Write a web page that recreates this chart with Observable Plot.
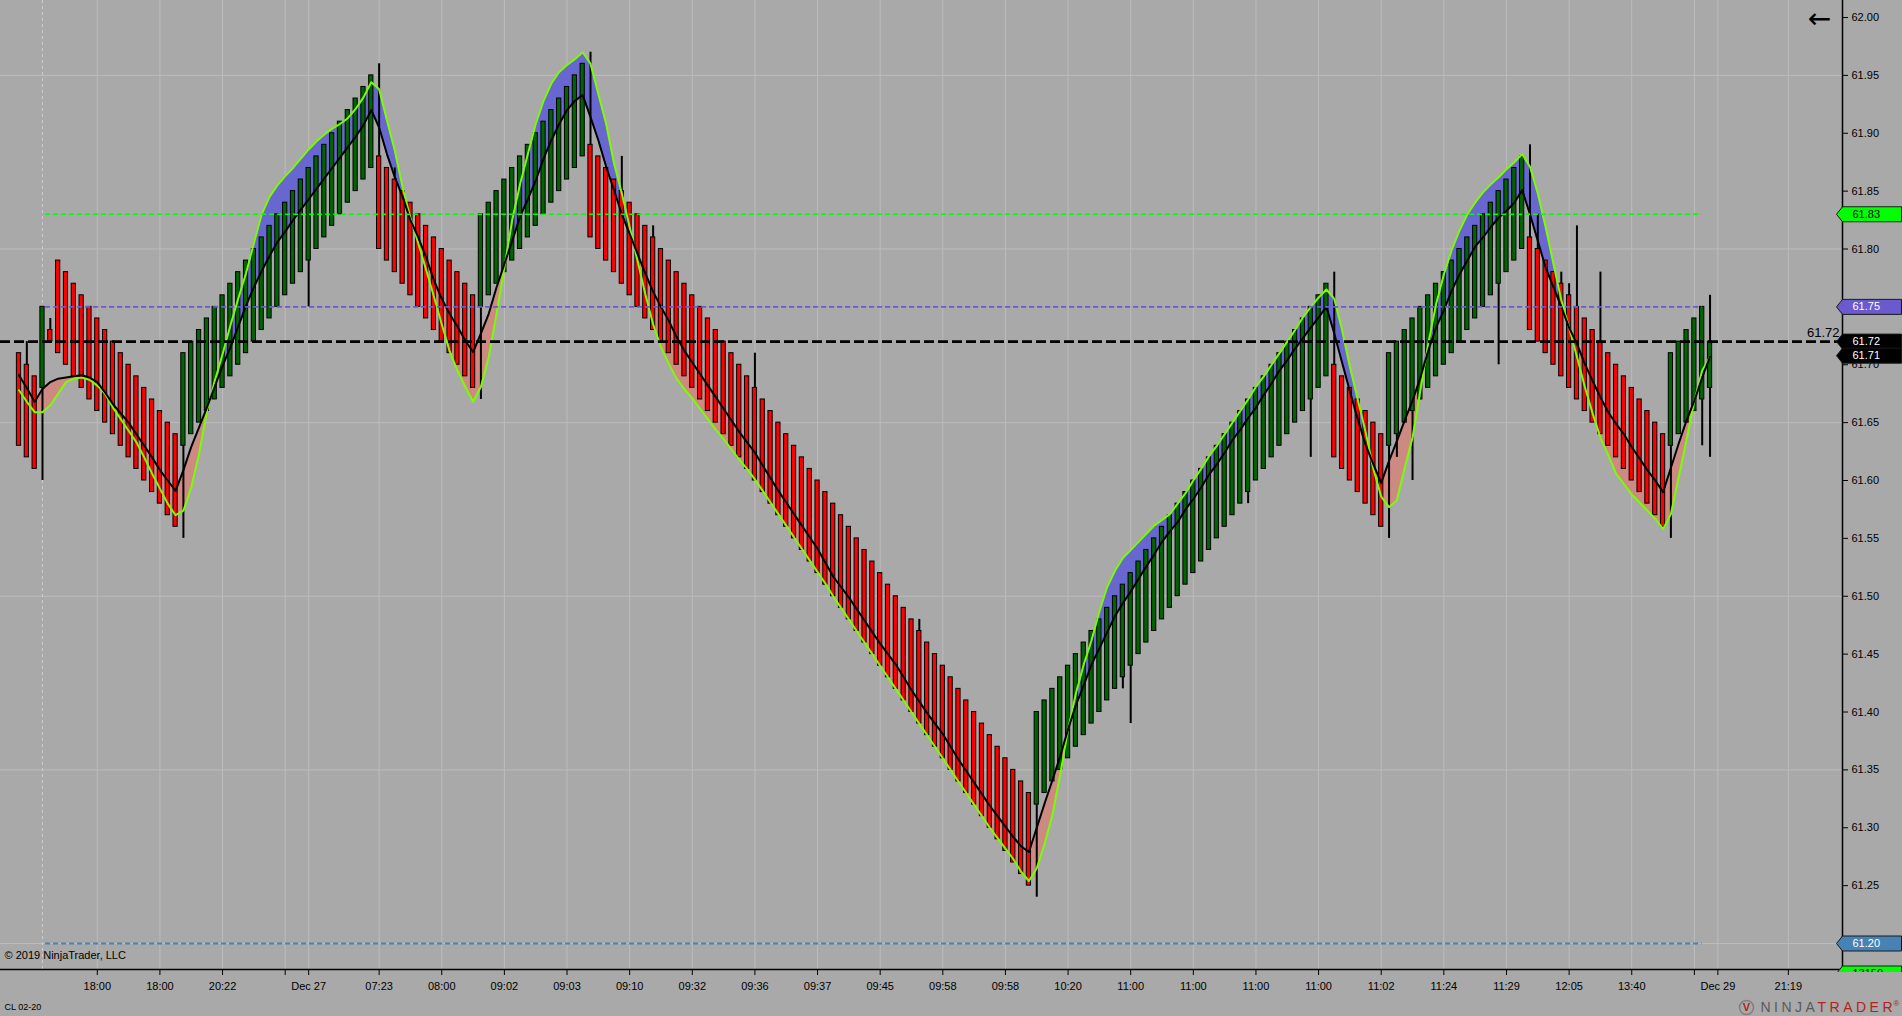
<!DOCTYPE html>
<html><head><meta charset="utf-8">
<script src="https://cdn.jsdelivr.net/npm/d3@7"></script>
<script src="https://cdn.jsdelivr.net/npm/@observablehq/plot@0.6"></script>
<style>
html,body{margin:0;padding:0;background:#A9A9A9;overflow:hidden;}
#chart{width:1902px;height:1016px;}
</style></head><body><div id="chart"></div>
<script>
// ---- bar data (one entry per bar, index = bar number) ----
const opens = [
61.71,61.70,61.69,61.68,61.73,61.79,61.78,61.77,61.76,61.75,
61.74,61.73,61.72,61.71,61.70,61.69,61.68,61.67,61.66,61.65,
61.64,61.63,61.64,61.65,61.66,61.67,61.68,61.69,61.70,61.71,
61.72,61.73,61.74,61.75,61.76,61.77,61.78,61.79,61.80,61.81,
61.82,61.83,61.84,61.85,61.86,61.87,61.88,61.87,61.86,61.85,
61.84,61.83,61.82,61.81,61.80,61.79,61.78,61.77,61.76,61.75,
61.76,61.77,61.78,61.79,61.80,61.81,61.82,61.83,61.84,61.85,
61.86,61.87,61.88,61.89,61.88,61.87,61.86,61.85,61.84,61.83,
61.82,61.81,61.80,61.79,61.78,61.77,61.76,61.75,61.74,61.73,
61.72,61.71,61.70,61.69,61.68,61.67,61.66,61.65,61.64,61.63,
61.62,61.61,61.60,61.59,61.58,61.57,61.56,61.55,61.54,61.53,
61.52,61.51,61.50,61.49,61.48,61.47,61.46,61.45,61.44,61.43,
61.42,61.41,61.40,61.39,61.38,61.37,61.36,61.35,61.34,61.33,
61.32,61.33,61.34,61.35,61.36,61.37,61.38,61.39,61.40,61.41,
61.42,61.43,61.44,61.45,61.46,61.47,61.48,61.49,61.50,61.51,
61.52,61.53,61.54,61.55,61.56,61.57,61.58,61.59,61.60,61.61,
61.62,61.63,61.64,61.65,61.66,61.67,61.68,61.69,61.70,61.69,
61.68,61.67,61.66,61.65,61.64,61.63,61.64,61.65,61.66,61.67,
61.68,61.69,61.70,61.71,61.72,61.73,61.74,61.75,61.76,61.77,
61.78,61.79,61.80,61.81,61.80,61.79,61.78,61.77,61.76,61.75,
61.74,61.73,61.72,61.71,61.70,61.69,61.68,61.67,61.66,61.65,
61.64,61.63,61.64,61.65,61.66,61.67,61.68];
const closes = [
61.63,61.62,61.61,61.75,61.72,61.71,61.70,61.69,61.68,61.67,
61.66,61.65,61.64,61.63,61.62,61.61,61.60,61.59,61.58,61.57,
61.56,61.71,61.72,61.73,61.74,61.75,61.76,61.77,61.78,61.79,
61.80,61.81,61.82,61.83,61.84,61.85,61.86,61.87,61.88,61.89,
61.90,61.91,61.92,61.93,61.94,61.95,61.80,61.79,61.78,61.77,
61.76,61.75,61.74,61.73,61.72,61.71,61.70,61.69,61.68,61.83,
61.84,61.85,61.86,61.87,61.88,61.89,61.90,61.91,61.92,61.93,
61.94,61.95,61.96,61.81,61.80,61.79,61.78,61.77,61.76,61.75,
61.74,61.73,61.72,61.71,61.70,61.69,61.68,61.67,61.66,61.65,
61.64,61.63,61.62,61.61,61.60,61.59,61.58,61.57,61.56,61.55,
61.54,61.53,61.52,61.51,61.50,61.49,61.48,61.47,61.46,61.45,
61.44,61.43,61.42,61.41,61.40,61.39,61.38,61.37,61.36,61.35,
61.34,61.33,61.32,61.31,61.30,61.29,61.28,61.27,61.26,61.25,
61.40,61.41,61.42,61.43,61.44,61.45,61.46,61.47,61.48,61.49,
61.50,61.51,61.52,61.53,61.54,61.55,61.56,61.57,61.58,61.59,
61.60,61.61,61.62,61.63,61.64,61.65,61.66,61.67,61.68,61.69,
61.70,61.71,61.72,61.73,61.74,61.75,61.76,61.77,61.62,61.61,
61.60,61.59,61.58,61.57,61.56,61.71,61.72,61.73,61.74,61.75,
61.76,61.77,61.78,61.79,61.80,61.81,61.82,61.83,61.84,61.85,
61.86,61.87,61.88,61.73,61.72,61.71,61.70,61.69,61.68,61.67,
61.66,61.65,61.64,61.63,61.62,61.61,61.60,61.59,61.58,61.57,
61.56,61.71,61.72,61.73,61.74,61.75,61.72];
// black moving-average line
const maLine = [
61.691,61.680,61.668,61.679,61.685,61.688,61.689,61.690,61.691,61.689,
61.685,61.676,61.666,61.658,61.650,61.640,61.630,61.620,61.609,61.600,
61.591,61.609,61.629,61.646,61.663,61.681,61.699,61.715,61.733,61.751,
61.767,61.781,61.794,61.806,61.815,61.825,61.834,61.843,61.852,61.861,
61.870,61.879,61.888,61.897,61.907,61.920,61.905,61.882,61.862,61.845,
61.825,61.810,61.793,61.773,61.757,61.744,61.733,61.721,61.711,61.727,
61.744,61.767,61.787,61.807,61.828,61.843,61.859,61.878,61.894,61.908,
61.920,61.928,61.933,61.914,61.894,61.871,61.851,61.830,61.813,61.796,
61.779,61.763,61.750,61.738,61.724,61.712,61.702,61.692,61.682,61.672,
61.662,61.652,61.642,61.633,61.624,61.613,61.602,61.591,61.581,61.571,
61.561,61.551,61.541,61.529,61.517,61.508,61.499,61.489,61.479,61.469,
61.459,61.450,61.441,61.430,61.419,61.409,61.399,61.390,61.381,61.370,
61.359,61.349,61.339,61.329,61.319,61.310,61.301,61.292,61.284,61.279,
61.300,61.321,61.341,61.362,61.385,61.406,61.423,61.441,61.455,61.469,
61.483,61.494,61.504,61.515,61.526,61.536,61.547,61.556,61.564,61.575,
61.584,61.594,61.605,61.614,61.624,61.635,61.644,61.654,61.663,61.674,
61.684,61.695,61.704,61.714,61.723,61.732,61.741,61.750,61.727,61.702,
61.677,61.653,61.631,61.614,61.598,61.617,61.634,61.652,61.669,61.689,
61.712,61.732,61.747,61.764,61.778,61.790,61.802,61.810,61.819,61.827,
61.833,61.840,61.851,61.830,61.807,61.784,61.767,61.750,61.732,61.718,
61.701,61.686,61.672,61.659,61.649,61.640,61.629,61.619,61.609,61.600,
61.590,61.611,61.632,61.652,61.669,61.689,61.707];
// lime (fast) line
const hullLine = [
61.678,61.668,61.659,61.659,61.665,61.675,61.685,61.688,61.689,61.687,
61.682,61.675,61.663,61.653,61.643,61.633,61.620,61.606,61.593,61.580,
61.570,61.574,61.594,61.623,61.660,61.686,61.709,61.734,61.757,61.779,
61.805,61.830,61.845,61.855,61.863,61.870,61.878,61.886,61.893,61.899,
61.904,61.908,61.913,61.921,61.931,61.944,61.938,61.911,61.885,61.853,
61.827,61.805,61.782,61.759,61.735,61.712,61.695,61.681,61.668,61.681,
61.707,61.744,61.784,61.825,61.856,61.882,61.908,61.928,61.943,61.953,
61.959,61.964,61.970,61.960,61.934,61.908,61.874,61.848,61.819,61.790,
61.761,61.735,61.715,61.701,61.688,61.679,61.671,61.662,61.653,61.644,
61.636,61.627,61.618,61.610,61.601,61.591,61.581,61.571,61.561,61.551,
61.541,61.531,61.521,61.511,61.500,61.490,61.480,61.470,61.460,61.450,
61.440,61.430,61.420,61.410,61.400,61.390,61.380,61.370,61.360,61.350,
61.340,61.330,61.320,61.310,61.300,61.291,61.282,61.273,61.262,61.254,
61.265,61.286,61.311,61.346,61.385,61.416,61.441,61.462,61.487,61.508,
61.522,61.533,61.540,61.547,61.554,61.561,61.566,61.571,61.580,61.589,
61.600,61.610,61.621,61.630,61.640,61.650,61.660,61.670,61.681,61.690,
61.700,61.710,61.720,61.730,61.741,61.750,61.758,61.765,61.757,61.730,
61.698,61.670,61.642,61.610,61.586,61.577,61.583,61.611,61.637,61.678,
61.718,61.752,61.778,61.799,61.816,61.830,61.840,61.849,61.856,61.862,
61.869,61.875,61.882,61.871,61.848,61.819,61.787,61.756,61.732,61.707,
61.681,61.658,61.637,61.622,61.606,61.597,61.588,61.581,61.574,61.567,
61.558,61.571,61.603,61.635,61.669,61.695,61.707];
// wicks that extend beyond the body
const wickBar  = [1,3,4,21,37,46,48,59,73,77,81,94,115,130,141,142,157,165,168,175,176,178,189,193,194,197,198,199,202,211,215,216];
const wickLow  = [61.70,61.60,61.73,61.55,61.75,61.88,61.86,61.67,61.89,61.85,61.81,61.68,61.47,61.24,61.42,61.39,61.58,61.62,61.70,61.55,61.62,61.60,61.70,61.81,61.80,61.77,61.76,61.75,61.72,61.55,61.63,61.62];
const wickHigh = [61.72,61.68,61.74,61.63,61.79,61.96,61.87,61.75,61.97,61.88,61.82,61.71,61.48,61.32,61.43,61.44,61.59,61.67,61.78,61.63,61.64,61.66,61.77,61.89,61.83,61.78,61.77,61.82,61.78,61.63,61.67,61.76];
// x-axis ticks (bar index) and labels
const tickBars   = [10,18,26,34,37,46,54,62,70,78,86,94,102,110,118,126,134,142,150,158,166,174,182,190,198,206,214,217,226];
const tickLabels = ["18:00","18:00","20:22","","Dec 27","07:23","08:00","09:02","09:03","09:10","09:32","09:36","09:37","09:45","09:58","09:58","10:20","11:00","11:00","11:00","11:00","11:02","11:24","11:29","12:05","13:40","","Dec 29","21:19"];
// price axis
const yTicks = [61.20,61.25,61.30,61.35,61.40,61.45,61.50,61.55,61.60,61.65,61.70,61.75,61.80,61.85,61.90,61.95,62.00];
const yGrid  = [61.20,61.35,61.50,61.65,61.80,61.95];
// horizontal price levels
const levelGreen = 61.83, levelPurple = 61.75, levelBlack = 61.72, levelBlue = 61.20;
const lastPrice = 61.71;
const volumeText = "13150";

// ---- build ----
const bars = opens.map((o, i) => ({i, open: o, close: closes[i], ma: maLine[i], hull: hullLine[i], up: closes[i] >= o}));
const wicks = wickBar.map((b, k) => ({bar: b, low: wickLow[k], high: wickHigh[k]}));
const labelMap = new Map(tickBars.map((b, k) => [b, tickLabels[k]]));
const fmt = d => d.toFixed(2);

const W = 1902, H = 1016, MR = 60, MB = 47;
const xDomain = [-2.363, 232.92];
const yDomain = [61.17754, 62.01469];

const flagShape = {draw(ctx) {
  ctx.moveTo(-6, 0); ctx.lineTo(0, -7.5); ctx.lineTo(59, -7.5);
  ctx.lineTo(59, 7.5); ctx.lineTo(0, 7.5); ctx.closePath();
}};
const flags = [
  {price: levelGreen, fill: "#00FF00", ink: "#000000"},
  {price: levelPurple, fill: "#6A5ACD", ink: "#FFFFFF"},
  {price: levelBlack, fill: "#000000", ink: "#FFFFFF"},
  {price: levelBlue, fill: "#4682B4", ink: "#FFFFFF"}
];
const FONT = "Arial, 'Liberation Sans', sans-serif";
const tag = name => () => name;

const plot = Plot.plot({
  width: W, height: H,
  marginLeft: 0, marginRight: MR, marginTop: 0, marginBottom: MB,
  x: {domain: xDomain, axis: null},
  y: {domain: yDomain, axis: null},
  style: {background: "#A9A9A9", fontFamily: FONT, color: "black", overflow: "visible"},
  marks: [
    // grid
    Plot.ruleX(tickBars, {stroke: "#BCBCBC", strokeWidth: 1}),
    Plot.ruleY(yGrid, {stroke: "#BCBCBC", strokeWidth: 1}),
    Plot.ruleX([3], {stroke: "#CDCDCD", strokeWidth: 1, strokeDasharray: "3,3"}),
    // fill between black and lime
    Plot.areaY(bars, {x: "i", y1: "ma", y2: d => Math.max(d.ma, d.hull), fill: "#6767CF"}),
    Plot.areaY(bars, {x: "i", y1: "ma", y2: d => Math.min(d.ma, d.hull), fill: "#CC8A82"}),
    // wicks and bodies
    Plot.ruleX(wicks, {x: "bar", y1: "low", y2: "high", stroke: "black", strokeWidth: 2}),
    Plot.rect(bars, {x1: d => d.i - 0.27, x2: d => d.i + 0.27, y1: "open", y2: "close",
      fill: d => d.up ? "#006400" : "#FF0000", stroke: "black", strokeWidth: 1}),
    // indicator lines
    Plot.lineY(bars, {x: "i", y: "hull", stroke: "#7CFC00", strokeWidth: 2}),
    Plot.lineY(bars, {x: "i", y: "ma", stroke: "black", strokeWidth: 2}),
    // horizontal levels
    Plot.ruleY([levelGreen], {x1: 3.4, x2: 215, stroke: "#00FF00", strokeWidth: 1.6, strokeDasharray: "5,3"}),
    Plot.ruleY([levelPurple], {x1: 3.4, x2: 215, stroke: "#6A5ACD", strokeWidth: 1.6, strokeDasharray: "5,3"}),
    Plot.ruleY([levelBlue], {x1: 3.4, x2: 215, stroke: "#4682B4", strokeWidth: 2, strokeDasharray: "5,3"}),
    Plot.ruleY([levelBlack], {stroke: "black", strokeWidth: 2.6, strokeDasharray: "10,4"}),
    Plot.text([levelBlack], {y: d => d, frameAnchor: "right", textAnchor: "end", lineAnchor: "middle", dx: -3, dy: -9, text: fmt, fontSize: 13, fill: "black"}),
    // axes lines
    Plot.ruleX([xDomain[1]], {stroke: "black", strokeWidth: 1.5}),
    Plot.ruleY([yDomain[0]], {stroke: "black", strokeWidth: 1.5}),
    Plot.axisX(tickBars, {tickFormat: d => labelMap.get(d), tickSize: 6, tickPadding: 7, fontSize: 11, stroke: "black", fill: "black", label: null}),
    Plot.axisY(yTicks, {anchor: "right", tickFormat: fmt, tickSize: 5, tickPadding: 4, fontSize: 11, stroke: "black", fill: "black", label: null}),
    // price flags on the axis
    Plot.dot(flags, {y: "price", frameAnchor: "right", symbol: flagShape, r: 8, fill: "fill", stroke: "#1a1a1a", strokeWidth: 1}),
    Plot.text(flags, {y: "price", frameAnchor: "right", dx: 10, textAnchor: "start", lineAnchor: "middle", text: d => fmt(d.price), fill: "ink", fontSize: 11}),
    Plot.dot([lastPrice], {y: d => d, frameAnchor: "right", dy: 2.5, symbol: flagShape, r: 8, fill: "#000000", stroke: "#1a1a1a", strokeWidth: 1}),
    Plot.text([lastPrice], {y: d => d, frameAnchor: "right", dy: 2.5, dx: 10, textAnchor: "start", lineAnchor: "middle", text: fmt, fill: "#FFFFFF", fontSize: 11}),
    Plot.dot([volumeText], {frameAnchor: "bottom-right", dy: 4, symbol: flagShape, r: 8, fill: "#00FF00", stroke: "#1a1a1a", strokeWidth: 1, ariaLabel: tag("volflag")}),
    Plot.text([volumeText], {frameAnchor: "bottom-right", dy: 4, dx: 10, textAnchor: "start", lineAnchor: "middle", text: d => d, fill: "#000000", fontSize: 11, ariaLabel: tag("volflag")}),
    // annotations
    Plot.text(["\u2190"], {frameAnchor: "top-right", dx: -23, dy: 19, textAnchor: "middle", lineAnchor: "middle", text: d => d, fontSize: 28, fontFamily: "'DejaVu Sans', sans-serif", fill: "black"}),
    Plot.text(["\u00A9 2019 NinjaTrader, LLC"], {frameAnchor: "bottom-left", dx: 4, dy: -14, textAnchor: "start", lineAnchor: "middle", text: d => d, fontSize: 11, fill: "black"}),
    Plot.text(["CL 02-20"], {frameAnchor: "bottom-left", dx: 4, dy: 38, textAnchor: "start", lineAnchor: "middle", text: d => d, fontSize: 9, fill: "black"}),
    Plot.dot([0], {frameAnchor: "bottom-right", dx: -96, dy: 38, r: 7, fill: "none", stroke: "#8a7b7b", strokeWidth: 1.5}),
    Plot.text(["V"], {frameAnchor: "bottom-right", dx: -96, dy: 38, textAnchor: "middle", lineAnchor: "middle", text: d => d, fontSize: 11, fontWeight: "bold", fill: "#B22222"}),
    Plot.text(["NINJA"], {frameAnchor: "bottom-right", dx: -82, dy: 38, textAnchor: "start", lineAnchor: "middle", text: d => d, fontSize: 14, fill: "#5a5a5a", ariaLabel: tag("logo")}),
    Plot.text(["TRADER"], {frameAnchor: "bottom-right", dx: -25, dy: 38, textAnchor: "start", lineAnchor: "middle", text: d => d, fontSize: 14, fill: "#B22222", ariaLabel: tag("logo")}),
    Plot.text(["\u00AE"], {frameAnchor: "bottom-right", dx: 51, dy: 34, textAnchor: "start", lineAnchor: "middle", text: d => d, fontSize: 8, fill: "#B22222"})
  ]
});

const svg = d3.select(plot);
svg.append("defs").append("clipPath").attr("id", "volclip")
  .append("rect").attr("x", 0).attr("y", 0).attr("width", W).attr("height", H - MB + 3);
const wrap = svg.append("g").attr("clip-path", "url(#volclip)");
const volGroups = new Set();
svg.selectAll('[aria-label="volflag"]').each(function() { volGroups.add(this.parentNode); });
volGroups.forEach(g => wrap.node().appendChild(g));
svg.selectAll('[aria-label="logo"]').attr("letter-spacing", "3.5px");
document.getElementById("chart").appendChild(plot);
</script>
</body></html>
